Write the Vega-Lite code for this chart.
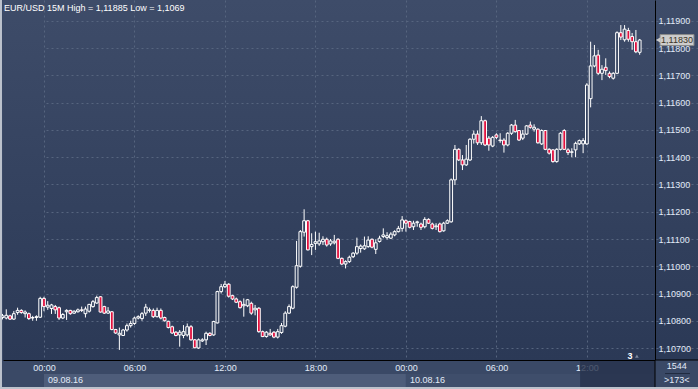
{
"$schema": "https://vega.github.io/schema/vega-lite/v6.json",
"width": 695, "height": 360,
"autosize": {"type": "none"},
"padding": {"left": 3, "top": 0, "right": 0, "bottom": 29},
"background": "#3a4966",
"config": {
  "font": "Liberation Sans",
  "view": {"stroke": null, "fill": {"gradient": "linear", "x1": 0, "y1": 0, "x2": 0, "y2": 1, "stops": [{"offset": 0, "color": "#3e4c69"}, {"offset": 1, "color": "#2b3956"}]}}
},
"resolve": {"axis": {"x": "independent", "y": "independent"}},
"datasets": {
"candles": [
{"t":"2016-08-08T21:15","o":1.10812,"h":1.10825,"l":1.10805,"c":1.10818},
{"t":"2016-08-08T21:30","o":1.10810,"h":1.10842,"l":1.10805,"c":1.10820},
{"t":"2016-08-08T21:45","o":1.10818,"h":1.10822,"l":1.10803,"c":1.10806},
{"t":"2016-08-08T22:00","o":1.10806,"h":1.10836,"l":1.10803,"c":1.10826},
{"t":"2016-08-08T22:15","o":1.10830,"h":1.10848,"l":1.10822,"c":1.10838},
{"t":"2016-08-08T22:30","o":1.10838,"h":1.10842,"l":1.10826,"c":1.10830},
{"t":"2016-08-08T22:45","o":1.10826,"h":1.10838,"l":1.10812,"c":1.10832},
{"t":"2016-08-08T23:00","o":1.10826,"h":1.10830,"l":1.10803,"c":1.10808},
{"t":"2016-08-08T23:15","o":1.10810,"h":1.10818,"l":1.10800,"c":1.10812},
{"t":"2016-08-08T23:30","o":1.10812,"h":1.10820,"l":1.10800,"c":1.10815},
{"t":"2016-08-08T23:45","o":1.10813,"h":1.10888,"l":1.10810,"c":1.10882},
{"t":"2016-08-09T00:00","o":1.10882,"h":1.10888,"l":1.10835,"c":1.10852},
{"t":"2016-08-09T00:15","o":1.10850,"h":1.10872,"l":1.10840,"c":1.10857},
{"t":"2016-08-09T00:30","o":1.10845,"h":1.10862,"l":1.10825,"c":1.10858},
{"t":"2016-08-09T00:45","o":1.10852,"h":1.10858,"l":1.10825,"c":1.10840},
{"t":"2016-08-09T01:00","o":1.10848,"h":1.10852,"l":1.10803,"c":1.10810},
{"t":"2016-08-09T01:15","o":1.10810,"h":1.10828,"l":1.10806,"c":1.10823},
{"t":"2016-08-09T01:30","o":1.10833,"h":1.10842,"l":1.10803,"c":1.10838},
{"t":"2016-08-09T01:45","o":1.10838,"h":1.10840,"l":1.10822,"c":1.10826},
{"t":"2016-08-09T02:00","o":1.10828,"h":1.10838,"l":1.10825,"c":1.10835},
{"t":"2016-08-09T02:15","o":1.10833,"h":1.10845,"l":1.10830,"c":1.10840},
{"t":"2016-08-09T02:30","o":1.10840,"h":1.10852,"l":1.10832,"c":1.10838},
{"t":"2016-08-09T02:45","o":1.10826,"h":1.10852,"l":1.10812,"c":1.10843},
{"t":"2016-08-09T03:00","o":1.10835,"h":1.10862,"l":1.10830,"c":1.10860},
{"t":"2016-08-09T03:15","o":1.10852,"h":1.10876,"l":1.10848,"c":1.10870},
{"t":"2016-08-09T03:30","o":1.10865,"h":1.10892,"l":1.10862,"c":1.10885},
{"t":"2016-08-09T03:45","o":1.10888,"h":1.10890,"l":1.10830,"c":1.10832},
{"t":"2016-08-09T04:00","o":1.10852,"h":1.10855,"l":1.10825,"c":1.10828},
{"t":"2016-08-09T04:15","o":1.10828,"h":1.10850,"l":1.10825,"c":1.10836},
{"t":"2016-08-09T04:30","o":1.10833,"h":1.10835,"l":1.10765,"c":1.10768},
{"t":"2016-08-09T04:45","o":1.10768,"h":1.10770,"l":1.10752,"c":1.10755},
{"t":"2016-08-09T05:00","o":1.10748,"h":1.10775,"l":1.10693,"c":1.10754},
{"t":"2016-08-09T05:15","o":1.10746,"h":1.10770,"l":1.10744,"c":1.10766},
{"t":"2016-08-09T05:30","o":1.10766,"h":1.10790,"l":1.10760,"c":1.10782},
{"t":"2016-08-09T05:45","o":1.10782,"h":1.10800,"l":1.10775,"c":1.10790},
{"t":"2016-08-09T06:00","o":1.10790,"h":1.10815,"l":1.10785,"c":1.10810},
{"t":"2016-08-09T06:15","o":1.10810,"h":1.10820,"l":1.10805,"c":1.10815},
{"t":"2016-08-09T06:30","o":1.10808,"h":1.10832,"l":1.10800,"c":1.10826},
{"t":"2016-08-09T06:45","o":1.10828,"h":1.10862,"l":1.10818,"c":1.10850},
{"t":"2016-08-09T07:00","o":1.10838,"h":1.10848,"l":1.10830,"c":1.10840},
{"t":"2016-08-09T07:15","o":1.10838,"h":1.10845,"l":1.10810,"c":1.10815},
{"t":"2016-08-09T07:30","o":1.10815,"h":1.10848,"l":1.10812,"c":1.10838},
{"t":"2016-08-09T07:45","o":1.10838,"h":1.10845,"l":1.10805,"c":1.10810},
{"t":"2016-08-09T08:00","o":1.10812,"h":1.10815,"l":1.10797,"c":1.10800},
{"t":"2016-08-09T08:15","o":1.10798,"h":1.10800,"l":1.10772,"c":1.10775},
{"t":"2016-08-09T08:30","o":1.10778,"h":1.10782,"l":1.10752,"c":1.10755},
{"t":"2016-08-09T08:45","o":1.10758,"h":1.10762,"l":1.10743,"c":1.10746},
{"t":"2016-08-09T09:00","o":1.10748,"h":1.10766,"l":1.10705,"c":1.10758},
{"t":"2016-08-09T09:15","o":1.10746,"h":1.10784,"l":1.10736,"c":1.10760},
{"t":"2016-08-09T09:30","o":1.10748,"h":1.10790,"l":1.10742,"c":1.10778},
{"t":"2016-08-09T09:45","o":1.10778,"h":1.10784,"l":1.10727,"c":1.10730},
{"t":"2016-08-09T10:00","o":1.10730,"h":1.10733,"l":1.10699,"c":1.10701},
{"t":"2016-08-09T10:15","o":1.10700,"h":1.10735,"l":1.10697,"c":1.10730},
{"t":"2016-08-09T10:30","o":1.10726,"h":1.10736,"l":1.10722,"c":1.10730},
{"t":"2016-08-09T10:45","o":1.10730,"h":1.10760,"l":1.10711,"c":1.10754},
{"t":"2016-08-09T11:00","o":1.10754,"h":1.10758,"l":1.10743,"c":1.10746},
{"t":"2016-08-09T11:15","o":1.10748,"h":1.10800,"l":1.10745,"c":1.10797},
{"t":"2016-08-09T11:30","o":1.10792,"h":1.10910,"l":1.10790,"c":1.10907},
{"t":"2016-08-09T11:45","o":1.10907,"h":1.10935,"l":1.10900,"c":1.10925},
{"t":"2016-08-09T12:00","o":1.10925,"h":1.10946,"l":1.10920,"c":1.10934},
{"t":"2016-08-09T12:15","o":1.10934,"h":1.10938,"l":1.10885,"c":1.10890},
{"t":"2016-08-09T12:30","o":1.10892,"h":1.10895,"l":1.10876,"c":1.10880},
{"t":"2016-08-09T12:45","o":1.10880,"h":1.10885,"l":1.10865,"c":1.10868},
{"t":"2016-08-09T13:00","o":1.10870,"h":1.10875,"l":1.10845,"c":1.10848},
{"t":"2016-08-09T13:15","o":1.10855,"h":1.10882,"l":1.10815,"c":1.10860},
{"t":"2016-08-09T13:30","o":1.10855,"h":1.10880,"l":1.10850,"c":1.10877},
{"t":"2016-08-09T13:45","o":1.10864,"h":1.10870,"l":1.10822,"c":1.10828},
{"t":"2016-08-09T14:00","o":1.10840,"h":1.10858,"l":1.10820,"c":1.10846},
{"t":"2016-08-09T14:15","o":1.10846,"h":1.10850,"l":1.10756,"c":1.10760},
{"t":"2016-08-09T14:30","o":1.10760,"h":1.10764,"l":1.10740,"c":1.10742},
{"t":"2016-08-09T14:45","o":1.10742,"h":1.10762,"l":1.10738,"c":1.10758},
{"t":"2016-08-09T15:00","o":1.10754,"h":1.10770,"l":1.10745,"c":1.10748},
{"t":"2016-08-09T15:15","o":1.10758,"h":1.10762,"l":1.10736,"c":1.10740},
{"t":"2016-08-09T15:30","o":1.10740,"h":1.10770,"l":1.10735,"c":1.10760},
{"t":"2016-08-09T15:45","o":1.10757,"h":1.10792,"l":1.10752,"c":1.10782},
{"t":"2016-08-09T16:00","o":1.10780,"h":1.10835,"l":1.10776,"c":1.10828},
{"t":"2016-08-09T16:15","o":1.10828,"h":1.10860,"l":1.10825,"c":1.10852},
{"t":"2016-08-09T16:30","o":1.10846,"h":1.10930,"l":1.10842,"c":1.10925},
{"t":"2016-08-09T16:45","o":1.10923,"h":1.11093,"l":1.10918,"c":1.11002},
{"t":"2016-08-09T17:00","o":1.11000,"h":1.11133,"l":1.10995,"c":1.11127},
{"t":"2016-08-09T17:15","o":1.11125,"h":1.11209,"l":1.11109,"c":1.11167},
{"t":"2016-08-09T17:30","o":1.11167,"h":1.11170,"l":1.11058,"c":1.11060},
{"t":"2016-08-09T17:45","o":1.11072,"h":1.11121,"l":1.11041,"c":1.11080},
{"t":"2016-08-09T18:00","o":1.11084,"h":1.11127,"l":1.11060,"c":1.11090},
{"t":"2016-08-09T18:15","o":1.11082,"h":1.11123,"l":1.11075,"c":1.11093},
{"t":"2016-08-09T18:30","o":1.11090,"h":1.11110,"l":1.11078,"c":1.11099},
{"t":"2016-08-09T18:45","o":1.11099,"h":1.11105,"l":1.11072,"c":1.11078},
{"t":"2016-08-09T19:00","o":1.11082,"h":1.11100,"l":1.11075,"c":1.11093},
{"t":"2016-08-09T19:15","o":1.11086,"h":1.11115,"l":1.11080,"c":1.11092},
{"t":"2016-08-09T19:30","o":1.11099,"h":1.11103,"l":1.11026,"c":1.11029},
{"t":"2016-08-09T19:45","o":1.11029,"h":1.11032,"l":1.11004,"c":1.11008},
{"t":"2016-08-09T20:00","o":1.11008,"h":1.11022,"l":1.10992,"c":1.11017},
{"t":"2016-08-09T20:15","o":1.11017,"h":1.11039,"l":1.11012,"c":1.11033},
{"t":"2016-08-09T20:30","o":1.11035,"h":1.11052,"l":1.11030,"c":1.11048},
{"t":"2016-08-09T20:45","o":1.11048,"h":1.11105,"l":1.11042,"c":1.11072},
{"t":"2016-08-09T21:00","o":1.11065,"h":1.11080,"l":1.11050,"c":1.11074},
{"t":"2016-08-09T21:15","o":1.11064,"h":1.11109,"l":1.11060,"c":1.11075},
{"t":"2016-08-09T21:30","o":1.11072,"h":1.11110,"l":1.11068,"c":1.11096},
{"t":"2016-08-09T21:45","o":1.11099,"h":1.11102,"l":1.11066,"c":1.11070},
{"t":"2016-08-09T22:00","o":1.11062,"h":1.11099,"l":1.11045,"c":1.11086},
{"t":"2016-08-09T22:15","o":1.11091,"h":1.11112,"l":1.11087,"c":1.11103},
{"t":"2016-08-09T22:30","o":1.11109,"h":1.11139,"l":1.11103,"c":1.11115},
{"t":"2016-08-09T22:45","o":1.11105,"h":1.11125,"l":1.11098,"c":1.11112},
{"t":"2016-08-09T23:00","o":1.11103,"h":1.11125,"l":1.11100,"c":1.11118},
{"t":"2016-08-09T23:15","o":1.11115,"h":1.11132,"l":1.11110,"c":1.11127},
{"t":"2016-08-09T23:30","o":1.11127,"h":1.11148,"l":1.11124,"c":1.11139},
{"t":"2016-08-09T23:45","o":1.11139,"h":1.11184,"l":1.11127,"c":1.11170},
{"t":"2016-08-10T00:00","o":1.11167,"h":1.11172,"l":1.11127,"c":1.11158},
{"t":"2016-08-10T00:15","o":1.11164,"h":1.11167,"l":1.11139,"c":1.11143},
{"t":"2016-08-10T00:30","o":1.11145,"h":1.11167,"l":1.11133,"c":1.11158},
{"t":"2016-08-10T00:45","o":1.11160,"h":1.11167,"l":1.11145,"c":1.11163},
{"t":"2016-08-10T01:00","o":1.11155,"h":1.11160,"l":1.11133,"c":1.11143},
{"t":"2016-08-10T01:15","o":1.11145,"h":1.11180,"l":1.11139,"c":1.11172},
{"t":"2016-08-10T01:30","o":1.11172,"h":1.11176,"l":1.11155,"c":1.11158},
{"t":"2016-08-10T01:45","o":1.11155,"h":1.11160,"l":1.11135,"c":1.11139},
{"t":"2016-08-10T02:00","o":1.11145,"h":1.11158,"l":1.11133,"c":1.11148},
{"t":"2016-08-10T02:15","o":1.11155,"h":1.11160,"l":1.11124,"c":1.11127},
{"t":"2016-08-10T02:30","o":1.11130,"h":1.11163,"l":1.11127,"c":1.11158},
{"t":"2016-08-10T02:45","o":1.11158,"h":1.11172,"l":1.11155,"c":1.11167},
{"t":"2016-08-10T03:00","o":1.11163,"h":1.11322,"l":1.11160,"c":1.11317},
{"t":"2016-08-10T03:15","o":1.11317,"h":1.11445,"l":1.11298,"c":1.11429},
{"t":"2016-08-10T03:30","o":1.11429,"h":1.11433,"l":1.11386,"c":1.11390},
{"t":"2016-08-10T03:45","o":1.11390,"h":1.11408,"l":1.11353,"c":1.11372},
{"t":"2016-08-10T04:00","o":1.11372,"h":1.11445,"l":1.11368,"c":1.11393},
{"t":"2016-08-10T04:15","o":1.11390,"h":1.11470,"l":1.11386,"c":1.11466},
{"t":"2016-08-10T04:30","o":1.11466,"h":1.11498,"l":1.11450,"c":1.11485},
{"t":"2016-08-10T04:45","o":1.11485,"h":1.11498,"l":1.11445,"c":1.11453},
{"t":"2016-08-10T05:00","o":1.11453,"h":1.11551,"l":1.11445,"c":1.11534},
{"t":"2016-08-10T05:15","o":1.11534,"h":1.11538,"l":1.11441,"c":1.11445},
{"t":"2016-08-10T05:30","o":1.11470,"h":1.11478,"l":1.11424,"c":1.11445},
{"t":"2016-08-10T05:45","o":1.11441,"h":1.11478,"l":1.11437,"c":1.11473},
{"t":"2016-08-10T06:00","o":1.11482,"h":1.11488,"l":1.11466,"c":1.11473},
{"t":"2016-08-10T06:15","o":1.11461,"h":1.11488,"l":1.11453,"c":1.11463},
{"t":"2016-08-10T06:30","o":1.11463,"h":1.11470,"l":1.11417,"c":1.11445},
{"t":"2016-08-10T06:45","o":1.11445,"h":1.11492,"l":1.11440,"c":1.11488},
{"t":"2016-08-10T07:00","o":1.11488,"h":1.11522,"l":1.11482,"c":1.11518},
{"t":"2016-08-10T07:15","o":1.11518,"h":1.11537,"l":1.11490,"c":1.11494},
{"t":"2016-08-10T07:30","o":1.11498,"h":1.11500,"l":1.11460,"c":1.11463},
{"t":"2016-08-10T07:45","o":1.11470,"h":1.11500,"l":1.11463,"c":1.11485},
{"t":"2016-08-10T08:00","o":1.11485,"h":1.11518,"l":1.11482,"c":1.11515},
{"t":"2016-08-10T08:15","o":1.11518,"h":1.11531,"l":1.11505,"c":1.11510},
{"t":"2016-08-10T08:30","o":1.11503,"h":1.11521,"l":1.11494,"c":1.11510},
{"t":"2016-08-10T08:45","o":1.11503,"h":1.11506,"l":1.11450,"c":1.11453},
{"t":"2016-08-10T09:00","o":1.11449,"h":1.11502,"l":1.11445,"c":1.11498},
{"t":"2016-08-10T09:15","o":1.11498,"h":1.11500,"l":1.11426,"c":1.11429},
{"t":"2016-08-10T09:30","o":1.11429,"h":1.11433,"l":1.11410,"c":1.11415},
{"t":"2016-08-10T09:45","o":1.11427,"h":1.11430,"l":1.11380,"c":1.11384},
{"t":"2016-08-10T10:00","o":1.11384,"h":1.11433,"l":1.11380,"c":1.11429},
{"t":"2016-08-10T10:15","o":1.11429,"h":1.11492,"l":1.11425,"c":1.11488},
{"t":"2016-08-10T10:30","o":1.11498,"h":1.11503,"l":1.11427,"c":1.11429},
{"t":"2016-08-10T10:45","o":1.11427,"h":1.11433,"l":1.11408,"c":1.11417},
{"t":"2016-08-10T11:00","o":1.11418,"h":1.11433,"l":1.11400,"c":1.11420},
{"t":"2016-08-10T11:15","o":1.11427,"h":1.11457,"l":1.11400,"c":1.11451},
{"t":"2016-08-10T11:30","o":1.11449,"h":1.11465,"l":1.11445,"c":1.11461},
{"t":"2016-08-10T11:45","o":1.11449,"h":1.11470,"l":1.11415,"c":1.11461},
{"t":"2016-08-10T12:00","o":1.11449,"h":1.11672,"l":1.11445,"c":1.11665},
{"t":"2016-08-10T12:15","o":1.11615,"h":1.11824,"l":1.11583,"c":1.11735},
{"t":"2016-08-10T12:30","o":1.11735,"h":1.11812,"l":1.11730,"c":1.11772},
{"t":"2016-08-10T12:45","o":1.11775,"h":1.11794,"l":1.11702,"c":1.11708},
{"t":"2016-08-10T13:00","o":1.11708,"h":1.11738,"l":1.11683,"c":1.11723},
{"t":"2016-08-10T13:15","o":1.11730,"h":1.11763,"l":1.11702,"c":1.11718},
{"t":"2016-08-10T13:30","o":1.11708,"h":1.11715,"l":1.11690,"c":1.11696},
{"t":"2016-08-10T13:45","o":1.11690,"h":1.11712,"l":1.11685,"c":1.11708},
{"t":"2016-08-10T14:00","o":1.11708,"h":1.11862,"l":1.11705,"c":1.11857},
{"t":"2016-08-10T14:15","o":1.11857,"h":1.11885,"l":1.11830,"c":1.11841},
{"t":"2016-08-10T14:30","o":1.11831,"h":1.11885,"l":1.11824,"c":1.11870},
{"t":"2016-08-10T14:45","o":1.11865,"h":1.11875,"l":1.11824,"c":1.11833},
{"t":"2016-08-10T15:00","o":1.11843,"h":1.11856,"l":1.11794,"c":1.11824},
{"t":"2016-08-10T15:15","o":1.11824,"h":1.11867,"l":1.11782,"c":1.11787},
{"t":"2016-08-10T15:30","o":1.11785,"h":1.11834,"l":1.11776,"c":1.11830}
],
"days": [
{"d0":"2016-08-09T00:00","d1":"2016-08-10T00:00","lab":"09.08.16"},
{"d0":"2016-08-10T00:00","d1":"2016-08-10T16:31","lab":"10.08.16"}
]
},
"layer": [
{
  "data": {"name": "candles"},
  "mark": {"type": "rule", "color": "#ffffff", "strokeWidth": 1},
  "encoding": {
    "x": {"field": "t", "type": "temporal",
      "scale": {"domain": [{"year": 2016, "month": 8, "date": 8, "hours": 21, "minutes": 17}, {"year": 2016, "month": 8, "date": 10, "hours": 16, "minutes": 31}], "range": [0, 652], "padding": 0},
      "axis": {"orient": "bottom", "title": null, "format": "%H:%M",
        "values": [{"year": 2016, "month": 8, "date": 9, "hours": 0}, {"year": 2016, "month": 8, "date": 9, "hours": 6}, {"year": 2016, "month": 8, "date": 9, "hours": 12}, {"year": 2016, "month": 8, "date": 9, "hours": 18}, {"year": 2016, "month": 8, "date": 10, "hours": 0}, {"year": 2016, "month": 8, "date": 10, "hours": 6}, {"year": 2016, "month": 8, "date": 10, "hours": 12}],
        "grid": true, "gridColor": "#56657f", "gridDash": [2, 3], "gridWidth": 1, "domain": true, "domainColor": "#000000", "domainWidth": 1, "ticks": false, "labelPadding": 3, "labelFontSize": 9, "labelColor": "#e2ebf8", "labelFlush": false, "labelOverlap": false}},
    "y": {"field": "l", "type": "quantitative",
      "scale": {"domain": [1.10656, 1.11977], "nice": false, "zero": false, "padding": 0},
      "axis": {"orient": "right", "offset": -43, "title": null, "values": [1.107, 1.108, 1.109, 1.11, 1.111, 1.112, 1.113, 1.114, 1.115, 1.116, 1.117, 1.118, 1.119], "labelExpr": "replace(format(datum.value, '.5f'), '.', ',')", "grid": true, "gridColor": "#56657f", "gridDash": [2, 3], "gridWidth": 1, "domain": true, "domainColor": "#000000", "domainWidth": 1, "ticks": false, "labelPadding": 3, "labelFontSize": 9, "labelColor": "#e2ebf8", "labelAlign": "left", "labelBaseline": "middle"}},
    "y2": {"field": "h"}
  }
},
{
  "data": {"name": "candles"},
  "mark": {"type": "bar", "width": 2.8, "stroke": "#ffffff", "strokeWidth": 1},
  "encoding": {
    "x": {"field": "t", "type": "temporal", "axis": null},
    "y": {"field": "o", "type": "quantitative", "axis": null},
    "y2": {"field": "c"},
    "fill": {"condition": {"test": "datum.c < datum.o", "value": "#e2103e"}, "value": "#34425f"}
  }
},
{
  "data": {"name": "days"},
  "mark": {"type": "rect"},
  "encoding": {
    "x": {"field": "d0", "type": "temporal", "axis": null},
    "x2": {"field": "d1"},
    "y": {"datum": 1.106046, "type": "quantitative", "axis": null},
    "y2": {"datum": 1.105569},
    "color": {"field": "lab", "type": "nominal", "scale": {"domain": ["09.08.16", "10.08.16"], "range": ["#4e5d7a", "#3f4e6b"]}, "legend": null}
  }
},
{
  "data": {"name": "days"},
  "mark": {"type": "text", "align": "left", "baseline": "middle", "dx": 4, "fontSize": 9, "color": "#e2ebf8"},
  "encoding": {
    "x": {"field": "d0", "type": "temporal", "axis": null},
    "y": {"datum": 1.105808, "type": "quantitative", "axis": null},
    "text": {"field": "lab"}
  }
},
{
  "data": {"values": [{}]},
  "mark": {"type": "rect", "fill": "#27324c", "opacity": 0.8},
  "encoding": {
    "x": {"datum": {"year": 2016, "month": 8, "date": 10, "hours": 11, "minutes": 33}, "type": "temporal", "axis": null},
    "x2": {"datum": {"year": 2016, "month": 8, "date": 10, "hours": 16, "minutes": 31}},
    "y": {"datum": 1.106523, "type": "quantitative", "axis": null},
    "y2": {"datum": 1.105569}
  }
},
{
  "data": {"values": [{}]},
  "mark": {"type": "rect", "fill": "#3a4966", "stroke": "#000000", "strokeWidth": 1},
  "encoding": {
    "x": {"datum": {"year": 2016, "month": 8, "date": 10, "hours": 16, "minutes": 31}, "type": "temporal", "axis": null},
    "x2": {"datum": {"year": 2016, "month": 8, "date": 10, "hours": 19, "minutes": 45}},
    "y": {"datum": 1.10656, "type": "quantitative", "axis": null},
    "y2": {"datum": 1.1054}
  }
},
{
  "data": {"values": [{}]},
  "mark": {"type": "rule", "color": "#202b40", "strokeWidth": 1},
  "encoding": {
    "x": {"datum": {"year": 2016, "month": 8, "date": 10, "hours": 17, "minutes": 11}, "type": "temporal", "axis": null},
    "x2": {"datum": {"year": 2016, "month": 8, "date": 10, "hours": 18, "minutes": 50}},
    "y": {"datum": 1.106064, "type": "quantitative", "axis": null}
  }
},
{
  "data": {"values": [{}]},
  "mark": {"type": "text", "text": "1544", "align": "center", "baseline": "middle", "fontSize": 9, "color": "#e2ebf8"},
  "encoding": {
    "x": {"datum": {"year": 2016, "month": 8, "date": 10, "hours": 17, "minutes": 58}, "type": "temporal", "axis": null},
    "y": {"datum": 1.106322, "type": "quantitative", "axis": null}
  }
},
{
  "data": {"values": [{}]},
  "mark": {"type": "text", "text": ">173<", "align": "center", "baseline": "middle", "fontSize": 9, "color": "#e2ebf8"},
  "encoding": {
    "x": {"datum": {"year": 2016, "month": 8, "date": 10, "hours": 17, "minutes": 58}, "type": "temporal", "axis": null},
    "y": {"datum": 1.105808, "type": "quantitative", "axis": null}
  }
},
{
  "data": {"values": [{}]},
  "mark": {"type": "text", "text": "3", "align": "center", "baseline": "middle", "fontSize": 9, "fontWeight": "bold", "color": "#ffffff"},
  "encoding": {
    "x": {"datum": {"year": 2016, "month": 8, "date": 10, "hours": 14, "minutes": 52}, "type": "temporal", "axis": null},
    "y": {"datum": 1.10672, "type": "quantitative", "axis": null}
  }
},
{
  "data": {"values": [{}]},
  "mark": {"type": "point", "shape": "triangle-up", "size": 14, "filled": true, "color": "#7d879c", "opacity": 1},
  "encoding": {
    "x": {"datum": {"year": 2016, "month": 8, "date": 10, "hours": 15, "minutes": 19}, "type": "temporal", "axis": null},
    "y": {"datum": 1.1067, "type": "quantitative", "axis": null}
  }
},
{
  "data": {"values": [{}]},
  "mark": {"type": "text", "text": "EUR/USD 15M High = 1,11885 Low = 1,1069", "align": "left", "baseline": "top", "dx": 1, "dy": 4, "fontSize": 9, "color": "#ffffff"},
  "encoding": {
    "x": {"datum": {"year": 2016, "month": 8, "date": 8, "hours": 21, "minutes": 17}, "type": "temporal", "axis": null},
    "y": {"datum": 1.11977, "type": "quantitative", "axis": null}
  }
},
{
  "data": {"name": "candles"},
  "transform": [
    {"aggregate": [{"op": "argmax", "field": "t", "as": "last"}]},
    {"calculate": "datum.last.c", "as": "lastc"},
    {"calculate": "replace(format(datum.last.c, '.5f'), '.', ',')", "as": "lastlab"}
  ],
  "layer": [
    {
      "mark": {"type": "bar", "height": 11, "fill": "#cdcdcd", "stroke": "#8a8a8a", "strokeWidth": 1},
      "encoding": {
        "x": {"datum": {"year": 2016, "month": 8, "date": 10, "hours": 16, "minutes": 51}, "type": "temporal", "axis": null},
        "x2": {"datum": {"year": 2016, "month": 8, "date": 10, "hours": 19, "minutes": 6}},
        "y": {"field": "lastc", "type": "quantitative", "axis": null}
      }
    },
    {
      "mark": {"type": "point", "shape": "triangle-left", "size": 30, "filled": true, "color": "#cdcdcd", "opacity": 1},
      "encoding": {
        "x": {"datum": {"year": 2016, "month": 8, "date": 10, "hours": 16, "minutes": 44}, "type": "temporal", "axis": null},
        "y": {"field": "lastc", "type": "quantitative", "axis": null}
      }
    },
    {
      "mark": {"type": "text", "align": "left", "baseline": "middle", "dx": 0, "fontSize": 9, "color": "#3b3326"},
      "encoding": {
        "x": {"datum": {"year": 2016, "month": 8, "date": 10, "hours": 16, "minutes": 55}, "type": "temporal", "axis": null},
        "y": {"field": "lastc", "type": "quantitative", "axis": null},
        "text": {"field": "lastlab"}
      }
    }
  ]
},
{
  "data": {"values": [{}]},
  "mark": {"type": "rect", "fill": "#bcc2cc"},
  "encoding": {
    "x": {"datum": {"year": 2016, "month": 8, "date": 8, "hours": 21, "minutes": 0}, "type": "temporal", "axis": null},
    "x2": {"datum": {"year": 2016, "month": 8, "date": 10, "hours": 20, "minutes": 0}},
    "y": {"datum": 1.105569, "type": "quantitative", "axis": null},
    "y2": {"datum": 1.1054}
  }
},
{
  "data": {"values": [{}]},
  "mark": {"type": "rect", "fill": "#bcc2cc"},
  "encoding": {
    "x": {"datum": {"year": 2016, "month": 8, "date": 8, "hours": 21, "minutes": 0}, "type": "temporal", "axis": null},
    "x2": {"datum": {"year": 2016, "month": 8, "date": 8, "hours": 21, "minutes": 13}},
    "y": {"datum": 1.1205, "type": "quantitative", "axis": null},
    "y2": {"datum": 1.1054}
  }
}
]
}
